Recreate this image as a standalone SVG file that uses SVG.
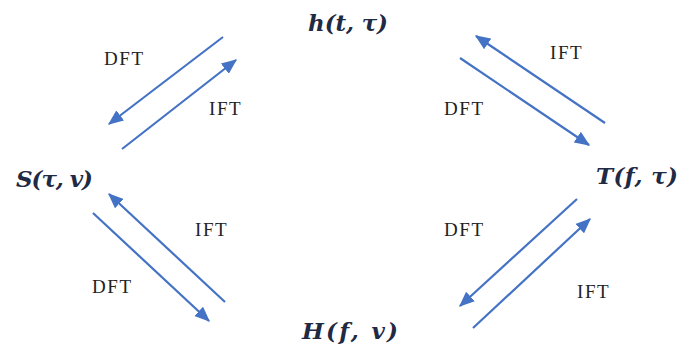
<svg xmlns="http://www.w3.org/2000/svg" width="680" height="351" viewBox="0 0 680 351">
<style>
.lbl{font-family:"Liberation Serif","Times New Roman",serif;font-size:19px;letter-spacing:1.6px;fill:#222;}
.math{font-family:"DejaVu Serif","Liberation Serif",serif;font-style:italic;font-weight:600;font-size:23px;fill:#1f2a44;}
.arr{stroke:#4472C4;stroke-width:2.2;fill:none;marker-end:url(#ah);}
</style>
<defs>
<marker id="ah" viewBox="0 0 12 10" refX="11" refY="5" markerWidth="7" markerHeight="6" orient="auto" markerUnits="strokeWidth">
<path d="M0,0 L12,5 L0,10 Z" fill="#4472C4"/>
</marker>
</defs>
<rect width="680" height="351" fill="#fff"/>
<g id="node-h"><text class="math" x="308" y="31" textLength="80" lengthAdjust="spacing">h(t, τ)</text></g>
<g id="node-S"><text class="math" x="16" y="187" textLength="77" lengthAdjust="spacing">S(τ, v)</text></g>
<g id="node-T"><text class="math" x="596" y="184" textLength="82" lengthAdjust="spacing">T(f, τ)</text></g>
<g id="node-H"><text class="math" x="302" y="339" textLength="96" lengthAdjust="spacing">H(f, v)</text></g>
<g id="connectors">
<line class="arr" x1="223" y1="37" x2="109" y2="124"/>
<line class="arr" x1="122" y1="149" x2="236" y2="60"/>
<line class="arr" x1="605" y1="123" x2="476" y2="36"/>
<line class="arr" x1="460" y1="58" x2="589" y2="145"/>
<line class="arr" x1="225" y1="302" x2="109" y2="194"/>
<line class="arr" x1="93" y1="213" x2="209" y2="321"/>
<line class="arr" x1="577" y1="199" x2="460" y2="306"/>
<line class="arr" x1="473" y1="328" x2="590" y2="219"/>
</g>
<g id="labels">
<text class="lbl" x="104" y="65">DFT</text>
<text class="lbl" x="209" y="115">IFT</text>
<text class="lbl" x="550" y="59">IFT</text>
<text class="lbl" x="444" y="115">DFT</text>
<text class="lbl" x="195" y="236">IFT</text>
<text class="lbl" x="92" y="293">DFT</text>
<text class="lbl" x="444" y="236">DFT</text>
<text class="lbl" x="577" y="298">IFT</text>
</g>
</svg>
